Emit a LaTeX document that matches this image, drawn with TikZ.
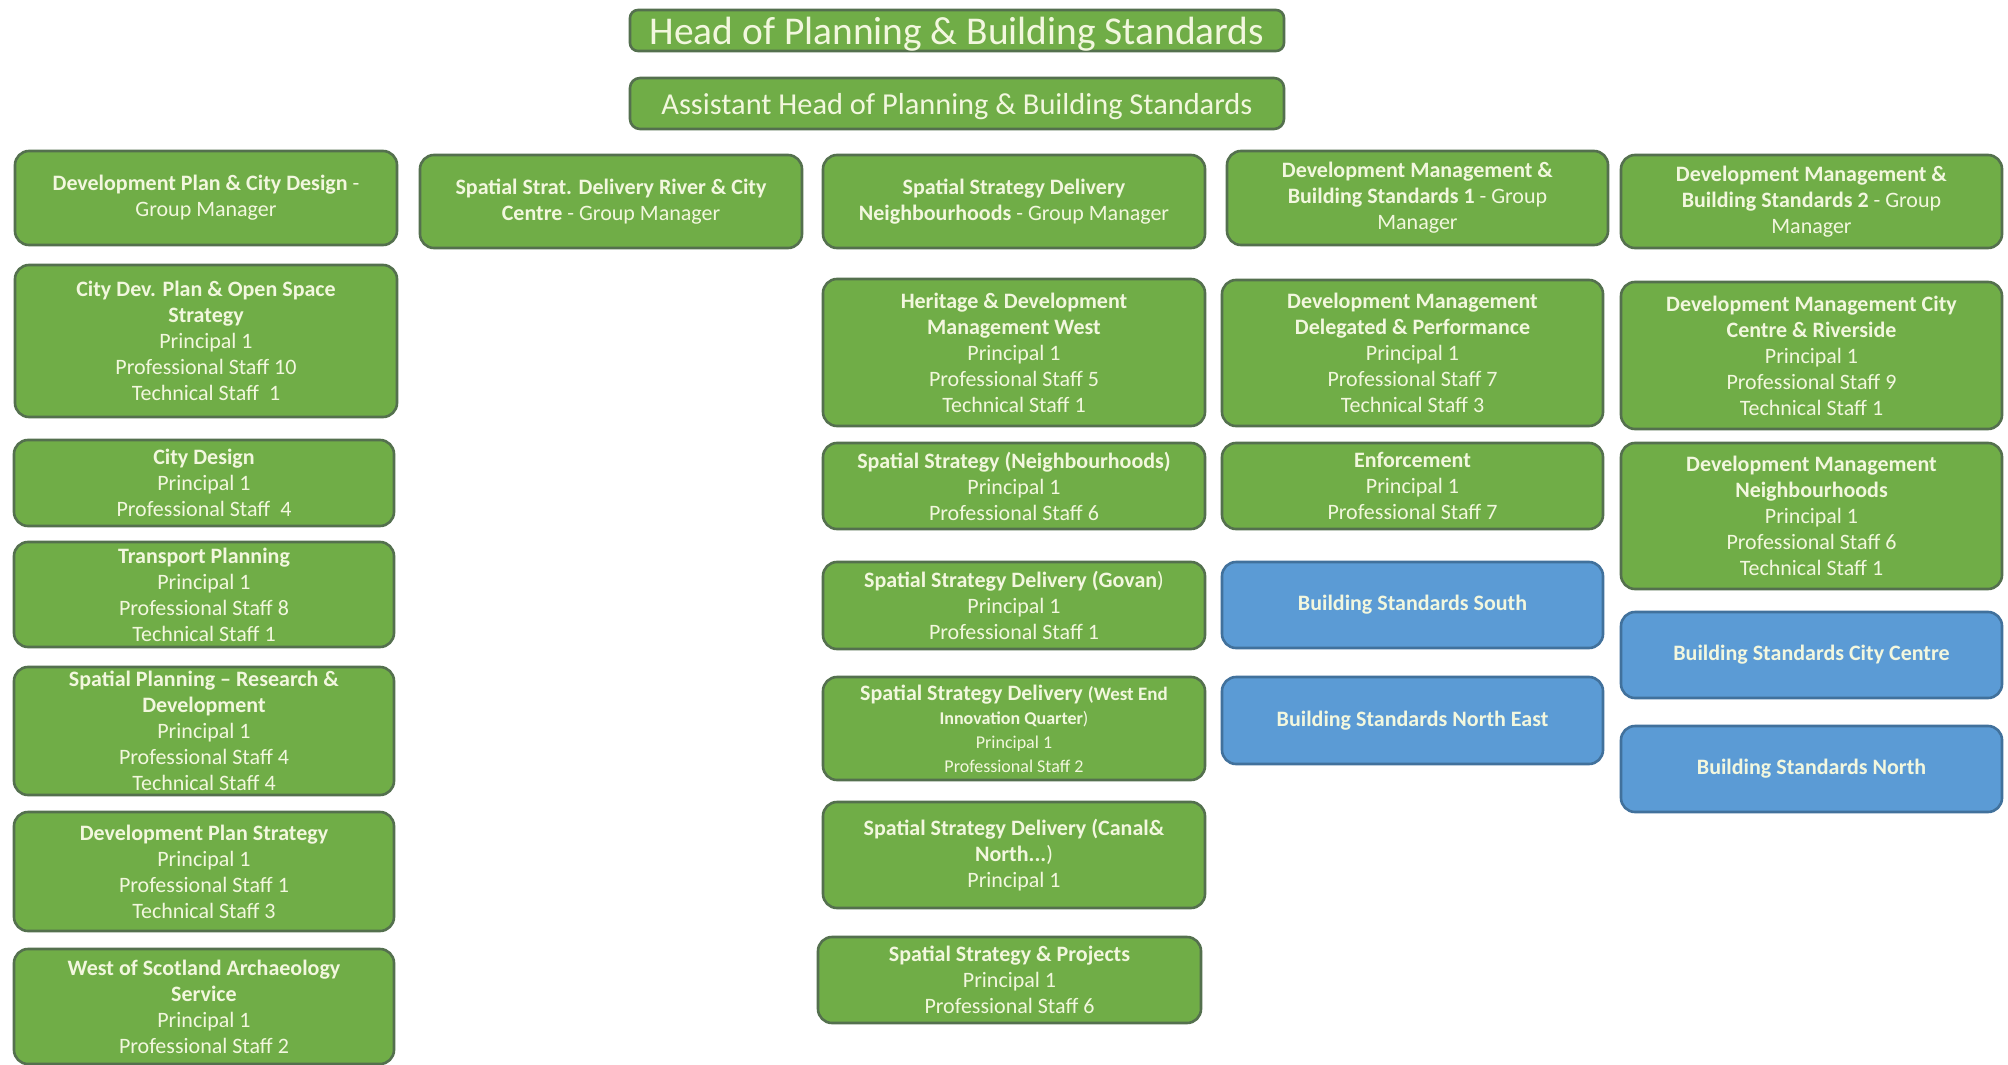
\documentclass[tikz,border=0pt]{standalone}
\usepackage{fontspec}
\setmainfont{Carlito}
\definecolor{gfill}{RGB}{112,173,71}
\definecolor{gline}{RGB}{84,112,78}
\definecolor{bfill}{RGB}{91,155,213}
\definecolor{bline}{RGB}{65,113,156}
\definecolor{tcol}{RGB}{242,247,222}
\newcommand\BX[7]{\node[#6, minimum width={(#4-#2)*0.5pt}, minimum height={(#5-#3)*0.5pt}] (#1) at ({(#2+#4)/2},{(#3+#5)/2}) {#7};}
\tikzset{
  gbox/.style={draw=gline, fill=gfill, line width=1.3pt, rounded corners=7pt, text=tcol, align=center, inner sep=0pt, font=\fontsize{11}{13}\selectfont},
  bbox/.style={draw=bline, fill=bfill, line width=1.3pt, rounded corners=7pt, text=tcol, align=center, inner sep=0pt, font=\fontsize{11}{13}\selectfont\bfseries},
  hbox/.style={gbox, rounded corners=4pt, font=\fontsize{19.7}{22}\selectfont, text height=15pt, text depth=1pt},
  abox/.style={gbox, rounded corners=5pt, font=\fontsize{15.2}{18}\selectfont, text height=12pt, text depth=1pt}
}
\begin{document}
\begin{tikzpicture}[x=0.5pt,y=-0.5pt]
\useasboundingbox[fill=white] (0,0) rectangle (2008,1065);
\BX{head}{630}{10}{1284}{51}{hbox}{Head of Planning \& Building Standards}
\BX{ahead}{630}{78}{1284}{129}{abox}{Assistant Head of Planning \& Building Standards}
% column 1
\BX{c1gm}{15}{151}{397}{245}{gbox}{\textbf{Development Plan \& City Design} -\\Group Manager}
\BX{c1a}{15}{265}{397}{417}{gbox}{\textbf{City Dev. Plan \& Open Space}\\\textbf{Strategy}\\Principal 1\\Professional Staff 10\\Technical Staff\ \ 1}
\BX{c1b}{14}{440}{394}{526}{gbox}{\textbf{City Design}\\Principal 1\\Professional Staff\ \ 4}
\BX{c1c}{14}{542}{394}{647}{gbox}{\textbf{Transport Planning}\\Principal 1\\Professional Staff 8\\Technical Staff 1}
\BX{c1d}{14}{667}{394}{795}{gbox}{\textbf{Spatial Planning -- Research \&}\\\textbf{Development}\\Principal 1\\Professional Staff 4\\Technical Staff 4}
\BX{c1e}{14}{812}{394}{931}{gbox}{\textbf{Development Plan Strategy}\\Principal 1\\Professional Staff 1\\Technical Staff 3}
\BX{c1f}{14}{949}{394}{1064}{gbox}{\textbf{West of Scotland Archaeology}\\\textbf{Service}\\Principal 1\\Professional Staff 2}
% column 2
\BX{c2gm}{420}{155}{802}{248}{gbox}{\textbf{Spatial Strat. Delivery River \& City}\\\textbf{Centre} - Group Manager}
% column 3
\BX{c3gm}{823}{155}{1205}{248}{gbox}{\textbf{Spatial Strategy Delivery}\\\textbf{Neighbourhoods} - Group Manager}
\BX{c3a}{823}{279}{1205}{426}{gbox}{\textbf{Heritage \& Development}\\\textbf{Management West}\\Principal 1\\Professional Staff 5\\Technical Staff 1}
\BX{c3b}{823}{443}{1205}{529}{gbox}{\textbf{Spatial Strategy (Neighbourhoods)}\\Principal 1\\Professional Staff 6}
\BX{c3c}{823}{562}{1205}{649}{gbox}{\textbf{Spatial Strategy Delivery (Govan})\\Principal 1\\Professional Staff 1}
\BX{c3d}{823}{677}{1205}{780}{gbox}{\textbf{Spatial Strategy Delivery} {\fontsize{9.5}{11}\selectfont\textbf{(West End}}\\[-1pt]{\fontsize{9}{11}\selectfont\textbf{Innovation Quarter})}\\[-1pt]{\fontsize{9}{11}\selectfont Principal 1}\\[-1pt]{\fontsize{9}{11}\selectfont Professional Staff 2}}
\BX{c3e}{823}{802}{1205}{908}{gbox}{\textbf{Spatial Strategy Delivery (Canal\&}\\\textbf{North...})\\Principal 1}
\BX{c3f}{818}{937}{1201}{1023}{gbox}{\textbf{Spatial Strategy \& Projects}\\Principal 1\\Professional Staff 6}
% column 4
\BX{c4gm}{1227}{151}{1608}{245}{gbox}{\textbf{Development Management \&}\\\textbf{Building Standards 1} - Group\\Manager}
\BX{c4a}{1222}{280}{1603}{426}{gbox}{\textbf{Development Management}\\\textbf{Delegated \& Performance}\\Principal 1\\Professional Staff 7\\Technical Staff 3}
\BX{c4b}{1222}{443}{1603}{529}{gbox}{\textbf{Enforcement}\\Principal 1\\Professional Staff 7}
\BX{c4c}{1222}{562}{1603}{648}{bbox}{Building Standards South}
\BX{c4d}{1222}{677}{1603}{764}{bbox}{Building Standards North East}
% column 5
\BX{c5gm}{1621}{155}{2002}{248}{gbox}{\textbf{Development Management \&}\\\textbf{Building Standards 2} - Group\\Manager}
\BX{c5a}{1621}{282}{2002}{429}{gbox}{\textbf{Development Management City}\\\textbf{Centre \& Riverside}\\Principal 1\\Professional Staff 9\\Technical Staff 1}
\BX{c5b}{1621}{443}{2002}{589}{gbox}{\textbf{Development Management}\\\textbf{Neighbourhoods}\\Principal 1\\Professional Staff 6\\Technical Staff 1}
\BX{c5c}{1621}{612}{2002}{698}{bbox}{Building Standards City Centre}
\BX{c5d}{1621}{726}{2002}{812}{bbox}{Building Standards North}
\end{tikzpicture}
\end{document}
